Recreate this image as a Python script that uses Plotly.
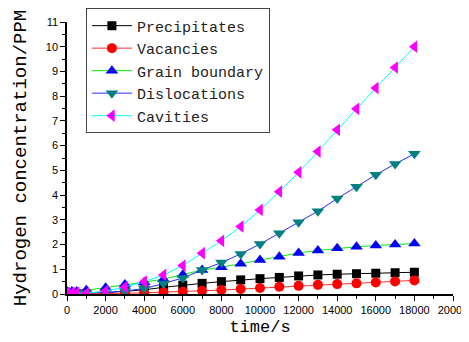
import plotly.graph_objects as go

time_s = [0, 250, 500, 1000, 2000, 3000, 4000, 5000, 6000, 7000, 8000, 9000,
          10000, 11000, 12000, 13000, 14000, 15000, 16000, 17000, 18000]

precipitates = [0.0, 0.01, 0.01, 0.02, 0.05, 0.10, 0.17, 0.27, 0.36, 0.43, 0.50, 0.57,
                0.62, 0.67, 0.73, 0.77, 0.80, 0.82, 0.84, 0.86, 0.88]
vacancies = [0.0, 0.0, 0.0, 0.01, 0.02, 0.03, 0.05, 0.07, 0.09, 0.13, 0.16, 0.20,
             0.24, 0.29, 0.33, 0.37, 0.40, 0.43, 0.47, 0.51, 0.55]
grain_boundary = [0.10, 0.10, 0.10, 0.15, 0.25, 0.38, 0.48, 0.60, 0.78, 0.97, 1.08, 1.22,
                  1.38, 1.51, 1.66, 1.76, 1.85, 1.91, 1.96, 2.00, 2.04]
dislocations = [0.05, 0.05, 0.04, 0.03, 0.06, 0.12, 0.22, 0.42, 0.65, 0.97, 1.27, 1.62,
                2.02, 2.46, 2.90, 3.35, 3.86, 4.34, 4.82, 5.26, 5.67]
cavities = [0.05, 0.05, 0.05, 0.03, 0.12, 0.28, 0.50, 0.77, 1.15, 1.65, 2.15, 2.73,
            3.40, 4.14, 4.92, 5.76, 6.64, 7.49, 8.33, 9.16, 10.0]

series = [
    ("Precipitates", precipitates, "black", "black", "square", 9),
    ("Vacancies", vacancies, "#ff3030", "#ff0000", "circle", 10),
    ("Grain boundary", grain_boundary, "#00ee00", "#0000ff", "triangle-up", 11),
    ("Dislocations", dislocations, "#2a2aff", "#008080", "triangle-down", 11),
    ("Cavities", cavities, "#00ffff", "#ff00ff", "triangle-left", 11),
]

fig = go.Figure()
for name, ys, lc, mc, sym, sz in series:
    fig.add_trace(go.Scatter(
        x=time_s, y=ys, name=name, mode="lines+markers",
        line=dict(color=lc, width=1),
        marker=dict(color=mc, symbol=sym, size=sz, line=dict(width=0)),
    ))

axis_common = dict(
    showline=True, linecolor="black", linewidth=1.5,
    ticks="outside", ticklen=5, tickwidth=1, tickcolor="black",
    showgrid=False, zeroline=False, mirror=False, automargin=False,
    tickfont=dict(family="Liberation Sans, Arial", size=11, color="black"),
)

fig.update_xaxes(
    range=[0, 20000], dtick=2000, tick0=0, tickformat="d",
    minor=dict(ticks="outside", ticklen=3, dtick=1000, tickcolor="black"),
    title=dict(text="time/s", font=dict(family="Liberation Mono", size=17, color="black"), standoff=5),
    **axis_common,
)
fig.update_yaxes(
    range=[0, 11], dtick=1, tick0=0,
    minor=dict(ticks="outside", ticklen=3, dtick=0.5, tickcolor="black"),
    title=dict(text="Hydrogen concentration/PPM", font=dict(family="Liberation Mono", size=19, color="black"), standoff=14),
    **axis_common,
)

# page body has an 8px margin, so the figure is shrunk by 8px and margins shifted
fig.update_layout(
    width=461, height=334,
    margin=dict(l=59, r=16, t=14, b=48, autoexpand=False),
    paper_bgcolor="white", plot_bgcolor="white",
    legend=dict(
        x=0.049, y=1.05, xanchor="left", yanchor="top",
        bgcolor="white", bordercolor="#444444", borderwidth=1,
        font=dict(family="Liberation Mono", size=15, color="#222222"),
        tracegroupgap=0, itemwidth=40,
    ),
    showlegend=True,
)

fig.write_html("out.html")
